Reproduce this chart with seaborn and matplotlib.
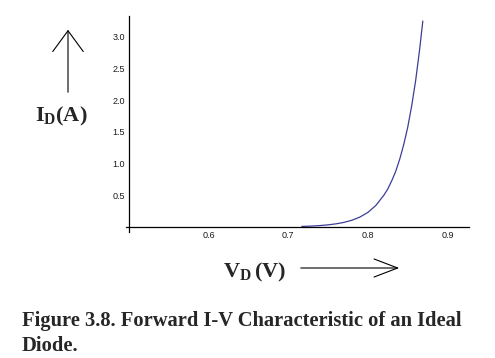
import matplotlib
matplotlib.use("Agg")
import matplotlib.pyplot as plt
import seaborn as sns
from matplotlib.patches import FancyArrowPatch
from matplotlib.ticker import MultipleLocator, FixedLocator

# forward diode curve
v_d = [0.717, 0.73, 0.74, 0.75, 0.76, 0.77, 0.78, 0.79, 0.80, 0.81, 0.82,
       0.825, 0.83, 0.835, 0.84, 0.845, 0.85, 0.855, 0.86, 0.865, 0.869]
i_d = [0.009, 0.015, 0.023, 0.034, 0.050, 0.073, 0.107, 0.157, 0.23, 0.34, 0.50,
       0.60, 0.73, 0.88, 1.07, 1.30, 1.57, 1.91, 2.31, 2.80, 3.25]
x_ticks = [0.6, 0.7, 0.8, 0.9]
y_ticks = [0.5, 1.0, 1.5, 2.0, 2.5, 3.0]

sns.set_theme(style="white")
plt.rcParams["font.family"] = ["Liberation Serif", "DejaVu Serif"]
plt.rcParams["mathtext.fontset"] = "custom"
plt.rcParams["mathtext.rm"] = "Liberation Serif:bold"
plt.rcParams["mathtext.bf"] = "Liberation Serif:bold"
plt.rcParams["mathtext.it"] = "Liberation Serif:bold"

fig = plt.figure(figsize=(4.95, 3.58), dpi=100)
ax = fig.add_axes([126 / 495, (358 - 227) / 358 - 4.7 / 358, 343 / 495, (211 + 4.7) / 358])

sns.lineplot(x=v_d, y=i_d, ax=ax, color="#3d3d99", linewidth=0.9)

ax.set_xlim(0.4963, 0.927)
ax.set_ylim(-0.074, 3.33)
ax.spines["top"].set_visible(False)
ax.spines["right"].set_visible(False)
ax.spines["left"].set_position(("data", 0.5))
ax.spines["bottom"].set_position(("data", 0.0))
for s in ("left", "bottom"):
    ax.spines[s].set_color("black")
    ax.spines[s].set_linewidth(0.9)

ax.xaxis.set_major_locator(FixedLocator(x_ticks))
ax.xaxis.set_minor_locator(MultipleLocator(0.02))
ax.yaxis.set_major_locator(FixedLocator(y_ticks))
ax.yaxis.set_minor_locator(MultipleLocator(0.1))
ax.set_xticklabels(["%.1f" % t for t in x_ticks])
ax.set_yticklabels(["%.1f" % t for t in y_ticks])
ax.tick_params(which="major", direction="in", length=4, width=0.8, color="black",
               labelsize=6.5, labelcolor="#1a1a1a", pad=3)
ax.tick_params(which="minor", direction="in", length=2, width=0.6, color="black")
for lab in ax.get_xticklabels() + ax.get_yticklabels():
    lab.set_family(["Liberation Sans", "DejaVu Sans"])
ax.set_xlabel("")
ax.set_ylabel("")

# axis labels and arrows drawn on the page
fig.text(35 / 495, 1 - 121 / 358, r"$\mathrm{I_D(A)}$", fontsize=16, ha="left", va="baseline")
fig.text(223 / 495, 1 - 277 / 358, r"$\mathrm{V_D\,(V)}$", fontsize=16, ha="left", va="baseline")

up = FancyArrowPatch((68 / 495, 1 - 95 / 358), (68 / 495, 1 - 27 / 358),
                     transform=fig.transFigure, arrowstyle="->,head_length=15,head_width=11",
                     mutation_scale=1, color="black", linewidth=0.8)
right = FancyArrowPatch((298 / 495, 1 - 268 / 358), (402 / 495, 1 - 268 / 358),
                        transform=fig.transFigure, arrowstyle="->,head_length=17,head_width=6.5",
                        mutation_scale=1, color="black", linewidth=0.8)
fig.patches.extend([up, right])

fig.text(22 / 495, 1 - 326 / 358, "Figure 3.8. Forward I-V Characteristic of an Ideal",
         fontsize=14.8, fontweight="bold", ha="left", va="baseline")
fig.text(22 / 495, 1 - 351 / 358, "Diode.",
         fontsize=14.8, fontweight="bold", ha="left", va="baseline")

fig.savefig("out.png", dpi=100)
